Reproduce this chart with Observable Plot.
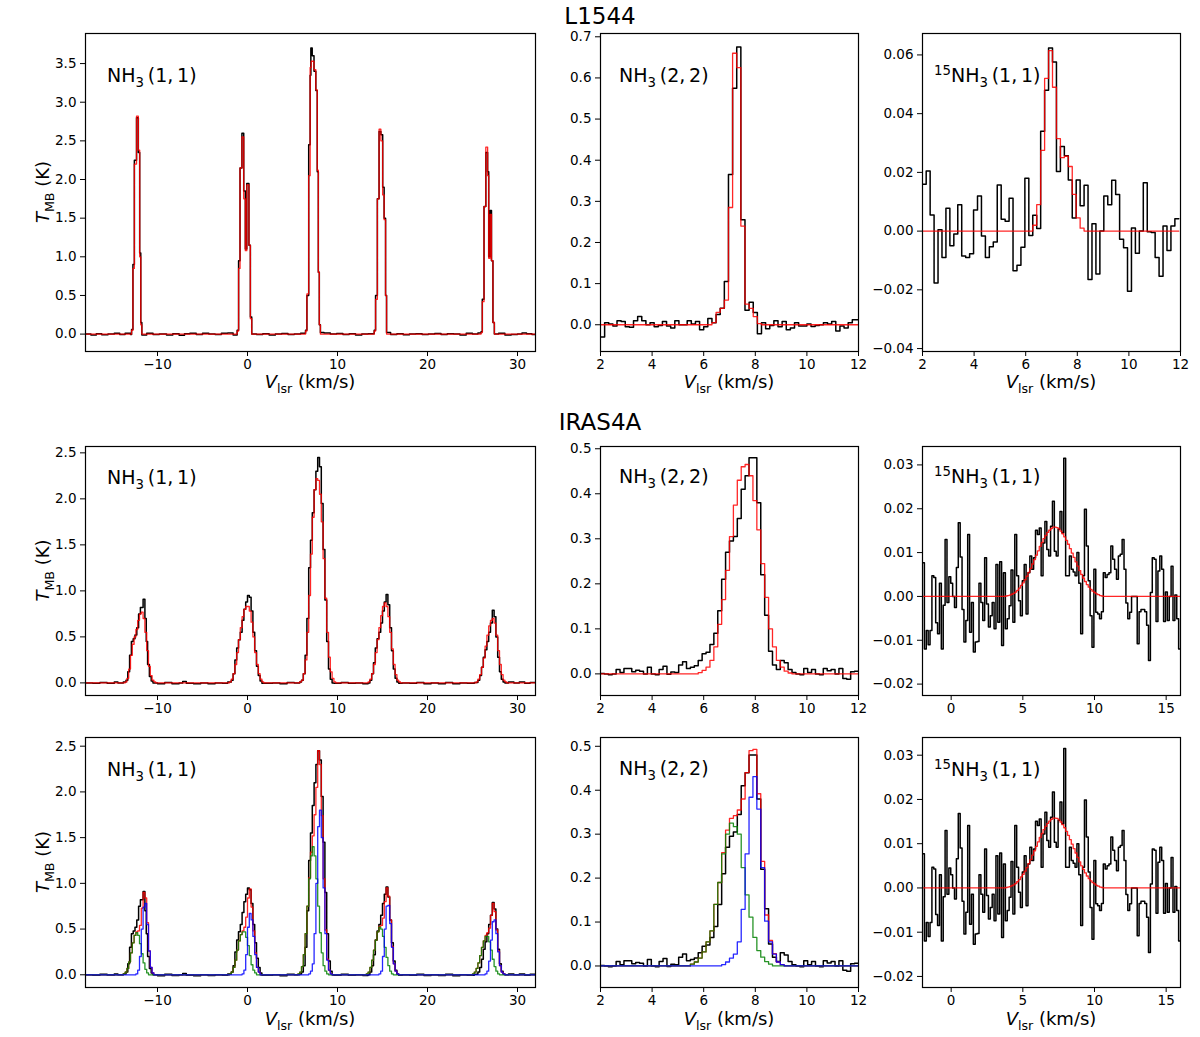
<!DOCTYPE html>
<html>
<head>
<meta charset="utf-8">
<script src="https://cdn.jsdelivr.net/npm/d3@7"></script>
<script src="https://cdn.jsdelivr.net/npm/@observablehq/plot@0.6"></script>
<style>
  body { margin: 0; background: #fff; }
  #fig { position: relative; width: 1200px; height: 1037px; background: #fff; font-family: "DejaVu Sans", sans-serif; }
</style>
</head>
<body>
<div id="fig"></div>
<script>
// ---- tick labels ----
const ticksWide = [-10, 0, 10, 20, 30];
const ticksNarrow = [2, 4, 6, 8, 10, 12];
const ticks15 = [0, 5, 10, 15];
const yTicksL11 = [0, 0.5, 1, 1.5, 2, 2.5, 3, 3.5];
const yTicksL22 = [0, 0.1, 0.2, 0.3, 0.4, 0.5, 0.6, 0.7];
const yTicksL15 = [-0.04, -0.02, 0, 0.02, 0.04, 0.06];
const yTicksI11 = [0, 0.5, 1, 1.5, 2, 2.5];
const yTicksI22 = [0, 0.1, 0.2, 0.3, 0.4, 0.5];
const yTicksI15 = [-0.02, -0.01, 0, 0.01, 0.02, 0.03];

// ---- L1544 NH3(1,1): [velocity, T] step breakpoints ----
const l11Obs = [
  [-18,0.0],[-17.4,-0.01],[-16.8,0.005],[-16.2,-0.008],[-15.5,0.0],[-14.8,0.01],[-14.2,-0.005],[-13.6,0.012],[-13.0,-0.005],
  [-12.88,0.06],[-12.73,0.9],[-12.57,2.25],[-12.33,2.8],[-12.13,2.35],[-11.98,1.05],[-11.86,0.15],[-11.74,-0.01],
  [-11.2,0.01],[-10.5,-0.005],[-9.8,0.0],[-9.0,-0.01],[-8.3,0.005],[-7.6,-0.015],[-7.0,0.005],[-6.4,0.01],[-5.7,-0.005],[-5.0,0.01],[-4.3,0.0],[-3.6,-0.005],[-2.9,0.01],[-2.2,0.015],[-1.6,-0.01],
  [-1.15,0.05],[-0.99,0.95],[-0.83,2.15],[-0.62,2.6],[-0.42,1.85],[-0.24,1.1],[-0.08,1.95],[0.16,1.15],[0.32,0.22],[0.47,0.0],
  [1.0,-0.005],[1.7,0.005],[2.4,-0.01],[3.1,0.0],[3.8,0.008],[4.5,-0.005],[5.2,0.0],[5.9,0.01],
  [6.45,0.05],[6.6,0.5],[6.8,2.45],[6.96,3.35],[7.04,3.7],[7.19,3.6],[7.39,3.4],[7.59,3.15],[7.75,2.1],[7.87,0.8],[7.98,0.12],[8.1,0.02],
  [8.5,0.015],[9.2,0.0],[9.9,0.008],[10.6,-0.005],[11.3,0.005],[12.0,-0.01],[12.7,0.0],[13.4,0.005],
  [14.08,0.05],[14.23,0.5],[14.43,1.75],[14.62,2.62],[14.82,2.58],[15.02,1.9],[15.18,1.5],[15.34,0.5],[15.45,0.02],
  [15.9,-0.005],[16.6,0.005],[17.3,-0.008],[18.0,0.0],[18.7,0.005],[19.4,-0.005],[20.1,0.0],[20.8,0.008],[21.5,-0.005],[22.2,0.005],[22.9,0.0],[23.6,-0.01],[24.3,0.01],[25.0,0.0],[25.6,0.015],
  [25.95,0.03],[26.09,0.45],[26.28,1.65],[26.48,2.35],[26.68,2.1],[26.8,1.0],[26.96,1.6],[27.11,0.95],[27.27,0.15],[27.43,0.0],
  [27.9,0.01],[28.6,-0.01],[29.3,-0.005],[30.0,0.0],[30.5,0.015],[31.0,0.005],[31.6,-0.005],[32,0]
];
const l11Fit = [
  [-18,0],[-12.88,0.05],[-12.73,0.85],[-12.57,2.2],[-12.33,2.82],[-12.13,2.38],[-11.98,1.0],[-11.86,0.12],[-11.74,0],
  [-1.15,0.04],[-0.99,0.85],[-0.83,2.15],[-0.62,2.55],[-0.42,1.75],[-0.24,1.08],[-0.08,1.93],[0.16,1.15],[0.32,0.2],[0.47,0],
  [6.45,0.04],[6.6,0.52],[6.8,2.05],[6.96,3.45],[7.08,3.53],[7.39,3.42],[7.59,3.16],[7.75,2.12],[7.87,0.8],[7.98,0.12],[8.1,0],
  [14.08,0.04],[14.23,0.45],[14.43,1.75],[14.62,2.65],[14.82,2.5],[15.02,1.8],[15.18,1.48],[15.34,0.5],[15.45,0],
  [25.95,0.02],[26.09,0.42],[26.28,1.65],[26.48,2.42],[26.68,2.05],[26.8,0.98],[26.96,1.55],[27.11,0.95],[27.27,0.15],[27.43,0],
  [32,0]
];

// ---- L1544 NH3(2,2): channel values, start 2.0 km/s, width 0.16 ----
const l22V0 = 2.0, l22Dv = 0.16;
const l22Obs = [-0.03,0.005,0.002,-0.003,0.01,0.008,-0.005,-0.006,0.01,0.02,0.01,0.0,0.005,-0.005,-0.002,0.008,-0.003,-0.008,0.01,0.0,0.0,0.01,0.002,0.008,-0.012,-0.005,0.015,0.005,0.025,0.04,0.105,0.365,0.575,0.675,0.255,0.035,0.055,0.03,-0.022,0.005,-0.01,-0.002,0.01,-0.005,0.008,-0.012,-0.008,0.005,-0.003,-0.003,0.002,-0.004,-0.002,0.0,0.005,0.002,0.008,-0.015,-0.003,-0.008,0.005,0.012,0.012];
const l22FitFirst = 27;
const l22Fit = [0.005,0.03,0.04,0.06,0.285,0.66,0.625,0.24,0.05,0.04,0.02,0.003];

// ---- L1544 15NH3(1,1): start 1.99 km/s, width 0.153 ----
const l15V0 = 1.99, l15Dv = 0.153;
const l15Obs = [0.016,0.0205,0.0055,-0.0177,0.0005,-0.009,0.0078,-0.005,-0.001,0.009,-0.0085,-0.009,-0.0077,0.0072,0.012,-0.0017,-0.009,-0.0053,-0.0037,0.0157,0.004,0.0034,0.0112,-0.0135,-0.0116,-0.0055,0.018,-0.0015,0.0054,0.0009,0.034,0.048,0.0624,0.0576,0.0203,0.0288,0.0257,0.0174,0.0045,0.0174,0.0086,0.0156,-0.0165,0.0025,-0.0146,0.0,0.012,0.009,0.0173,0.0125,-0.0028,-0.0057,-0.0205,0.0011,-0.0075,0.0,0.0165,-0.0002,-0.0005,-0.009,-0.0154,0.0017,-0.0066,0.0017,0.0042];
const l15FitFirst = 28;
const l15Fit = [0.002,0.009,0.0275,0.052,0.0615,0.049,0.0315,0.025,0.0255,0.022,0.0125,0.0045,0.001];

// ---- IRAS4A NH3(1,1) ----
const i11Obs = [
  [-18,0.0],[-17.2,-0.005],[-16.4,0.005],[-15.6,-0.003],[-14.8,0.01],[-14.4,0.0],[-13.8,0.01],
  [-13.5,0.03],[-13.3,0.12],[-13.1,0.3],[-12.9,0.45],[-12.7,0.48],[-12.5,0.52],[-12.3,0.6],[-12.1,0.75],[-11.9,0.82],[-11.6,0.91],[-11.4,0.7],[-11.25,0.45],[-11.1,0.2],[-10.9,0.07],[-10.7,0.02],[-10.5,0.0],
  [-10.0,-0.01],[-9.2,0.005],[-8.4,-0.008],[-7.6,0.0],[-7.2,0.015],[-6.8,-0.005],[-6.0,-0.01],[-5.2,0.0],[-4.4,-0.008],[-3.6,0.0],[-2.8,-0.005],[-2.2,0.01],
  [-1.8,0.03],[-1.6,0.1],[-1.4,0.25],[-1.2,0.38],[-1.0,0.47],[-0.8,0.55],[-0.6,0.68],[-0.4,0.8],[-0.2,0.88],[0.0,0.95],[0.2,0.93],[0.4,0.78],[0.6,0.55],[0.8,0.35],[1.0,0.18],[1.2,0.08],[1.4,0.02],[1.6,-0.005],
  [2.0,-0.005],[2.8,0.0],[3.6,-0.01],[4.4,0.005],[5.2,0.0],[5.8,0.01],
  [6.0,0.03],[6.2,0.1],[6.4,0.3],[6.6,0.7],[6.8,1.25],[7.0,1.55],[7.2,1.85],[7.4,2.1],[7.6,2.3],[7.8,2.45],[8.0,2.35],[8.2,1.95],[8.4,1.45],[8.6,0.9],[8.8,0.45],[9.0,0.15],[9.2,0.04],[9.4,0.0],
  [9.6,-0.005],[10.4,0.005],[11.2,-0.005],[12.0,0.0],[12.8,-0.008],[13.4,0.0],
  [13.6,0.03],[13.8,0.1],[14.0,0.22],[14.2,0.38],[14.4,0.48],[14.6,0.55],[14.8,0.65],[15.0,0.78],[15.2,0.88],[15.4,0.96],[15.6,0.85],[15.8,0.6],[16.0,0.35],[16.2,0.15],[16.4,0.05],[16.6,0.01],[16.8,-0.005],
  [17.2,0.0],[18.0,-0.005],[18.8,0.005],[19.6,-0.008],[20.4,0.0],[21.2,-0.008],[22.0,0.005],[22.8,-0.01],[23.6,0.0],[24.4,-0.005],[25.2,0.005],
  [25.6,0.03],[25.8,0.08],[26.0,0.17],[26.2,0.28],[26.4,0.36],[26.6,0.45],[26.8,0.55],[27.0,0.65],[27.2,0.79],[27.4,0.72],[27.6,0.5],[27.8,0.28],[28.0,0.12],[28.2,0.04],[28.4,0.01],[28.6,0.0],
  [29.0,0.01],[29.6,0.0],[30.2,0.01],[30.8,-0.005],[31.4,0.005],[32,0]
];
const i11Fit1 = [
  [-18,0],
  [-13.6,0.01],[-13.4,0.05],[-13.2,0.15],[-13.0,0.3],[-12.8,0.42],[-12.6,0.5],[-12.4,0.58],[-12.2,0.68],[-12.0,0.75],[-11.8,0.77],[-11.6,0.7],[-11.4,0.55],[-11.2,0.35],[-11.0,0.18],[-10.8,0.08],[-10.6,0.03],[-10.4,0.01],[-10.2,0],
  [-2.0,0.01],[-1.8,0.04],[-1.6,0.1],[-1.4,0.2],[-1.2,0.33],[-1.0,0.47],[-0.8,0.6],[-0.6,0.72],[-0.4,0.8],[-0.2,0.83],[0.0,0.83],[0.2,0.78],[0.4,0.66],[0.6,0.5],[0.8,0.33],[1.0,0.2],[1.2,0.1],[1.4,0.04],[1.6,0.01],[1.8,0],
  [5.8,0.01],[6.0,0.03],[6.2,0.1],[6.4,0.25],[6.6,0.55],[6.8,0.95],[7.0,1.4],[7.2,1.8],[7.4,2.1],[7.6,2.22],[7.8,2.2],[8.0,2.05],[8.2,1.75],[8.4,1.35],[8.6,0.92],[8.8,0.55],[9.0,0.28],[9.2,0.12],[9.4,0.05],[9.6,0.01],[9.8,0],
  [13.4,0.01],[13.6,0.04],[13.8,0.1],[14.0,0.2],[14.2,0.33],[14.4,0.47],[14.6,0.6],[14.8,0.73],[15.0,0.83],[15.2,0.87],[15.4,0.83],[15.6,0.72],[15.8,0.55],[16.0,0.37],[16.2,0.2],[16.4,0.09],[16.6,0.03],[16.8,0.01],[17.0,0],
  [25.4,0.01],[25.6,0.04],[25.8,0.09],[26.0,0.17],[26.2,0.27],[26.4,0.4],[26.6,0.52],[26.8,0.62],[27.0,0.68],[27.2,0.7],[27.4,0.65],[27.6,0.52],[27.8,0.35],[28.0,0.2],[28.2,0.09],[28.4,0.03],[28.6,0.01],[28.8,0],
  [32,0]
];
const i11Fit2 = [
  [-18,0],
  [-13.8,0.01],[-13.6,0.03],[-13.4,0.07],[-13.2,0.14],[-13.0,0.24],[-12.8,0.35],[-12.6,0.43],[-12.4,0.47],[-12.2,0.48],[-12.0,0.54],[-11.8,0.73],[-11.6,0.9],[-11.4,0.84],[-11.2,0.57],[-11.0,0.26],[-10.8,0.08],[-10.6,0.02],[-10.4,0],
  [-2.0,0.01],[-1.8,0.03],[-1.6,0.08],[-1.4,0.16],[-1.2,0.27],[-1.0,0.37],[-0.8,0.44],[-0.6,0.48],[-0.4,0.52],[-0.2,0.63],[0.0,0.84],[0.2,0.94],[0.4,0.74],[0.6,0.48],[0.8,0.24],[1.0,0.08],[1.2,0.03],[1.4,0],
  [5.6,0.01],[5.8,0.03],[6.0,0.09],[6.2,0.22],[6.4,0.45],[6.6,0.75],[6.8,1.06],[7.0,1.34],[7.2,1.52],[7.4,1.75],[7.6,2.05],[7.8,2.45],[8.0,2.3],[8.2,1.74],[8.4,1.05],[8.6,0.49],[8.8,0.17],[9.0,0.05],[9.2,0.01],[9.4,0],
  [13.2,0.01],[13.4,0.03],[13.6,0.08],[13.8,0.16],[14.0,0.27],[14.2,0.38],[14.4,0.47],[14.6,0.53],[14.8,0.54],[15.0,0.62],[15.2,0.8],[15.4,0.95],[15.6,0.86],[15.8,0.6],[16.0,0.31],[16.2,0.12],[16.4,0.04],[16.6,0.01],[16.8,0],
  [25.0,0.01],[25.2,0.03],[25.4,0.07],[25.6,0.13],[25.8,0.21],[26.0,0.3],[26.2,0.37],[26.4,0.43],[26.6,0.46],[26.8,0.51],[27.0,0.65],[27.2,0.78],[27.4,0.69],[27.6,0.49],[27.8,0.26],[28.0,0.1],[28.2,0.03],[28.4,0.01],[28.6,0],
  [32,0]
];
const i11Slow = [
  [-18,0],
  [-13.8,0.01],[-13.6,0.03],[-13.4,0.07],[-13.2,0.14],[-13.0,0.24],[-12.8,0.35],[-12.6,0.43],[-12.4,0.46],[-12.2,0.43],[-12.0,0.34],[-11.8,0.23],[-11.6,0.13],[-11.4,0.06],[-11.2,0.02],[-11.0,0],
  [-2.0,0.01],[-1.8,0.03],[-1.6,0.08],[-1.4,0.16],[-1.2,0.27],[-1.0,0.37],[-0.8,0.44],[-0.6,0.47],[-0.4,0.47],[-0.2,0.41],[0.0,0.32],[0.2,0.21],[0.4,0.11],[0.6,0.05],[0.8,0.02],[1.0,0],
  [5.6,0.01],[5.8,0.03],[6.0,0.09],[6.2,0.22],[6.4,0.45],[6.6,0.75],[6.8,1.05],[7.0,1.3],[7.2,1.4],[7.4,1.3],[7.6,1.05],[7.8,0.75],[8.0,0.46],[8.2,0.24],[8.4,0.1],[8.6,0.04],[8.8,0.01],[9.0,0],
  [13.2,0.01],[13.4,0.03],[13.6,0.08],[13.8,0.16],[14.0,0.27],[14.2,0.38],[14.4,0.47],[14.6,0.52],[14.8,0.5],[15.0,0.42],[15.2,0.3],[15.4,0.19],[15.6,0.1],[15.8,0.04],[16.0,0.01],[16.2,0],
  [25.0,0.01],[25.2,0.03],[25.4,0.07],[25.6,0.13],[25.8,0.21],[26.0,0.3],[26.2,0.37],[26.4,0.42],[26.6,0.42],[26.8,0.36],[27.0,0.27],[27.2,0.17],[27.4,0.09],[27.6,0.04],[27.8,0.01],[28.0,0],
  [32,0]
];
const i11Fast = [
  [-18,0],
  [-12.4,0.01],[-12.2,0.05],[-12.0,0.2],[-11.8,0.5],[-11.6,0.74],[-11.4,0.78],[-11.2,0.55],[-11.0,0.26],[-10.8,0.08],[-10.6,0.02],[-10.4,0],
  [-0.6,0.01],[-0.4,0.05],[-0.2,0.22],[0.0,0.52],[0.2,0.67],[0.4,0.6],[0.6,0.42],[0.8,0.22],[1.0,0.08],[1.2,0.03],[1.4,0],
  [6.8,0.01],[7.0,0.04],[7.2,0.12],[7.4,0.45],[7.6,1.0],[7.8,1.62],[8.0,1.8],[8.2,1.5],[8.4,0.95],[8.6,0.45],[8.8,0.16],[9.0,0.05],[9.2,0.01],[9.4,0],
  [14.6,0.01],[14.8,0.04],[15.0,0.2],[15.2,0.5],[15.4,0.75],[15.6,0.76],[15.8,0.56],[16.0,0.3],[16.2,0.12],[16.4,0.04],[16.6,0.01],[16.8,0],
  [26.4,0.01],[26.6,0.04],[26.8,0.15],[27.0,0.38],[27.2,0.58],[27.4,0.6],[27.6,0.45],[27.8,0.25],[28.0,0.1],[28.2,0.03],[28.4,0.01],[28.6,0],
  [32,0]
];

// ---- IRAS4A NH3(2,2): start 2.0 km/s, width 0.1515 ----
const i22V0 = 2.0, i22Dv = 0.1515;
const i22Obs = [0.001,0.0,-0.002,0.0,0.01,0.003,0.012,0.012,0.005,0.008,0.006,0.0,0.015,0.0,-0.002,0.01,0.017,-0.001,0.004,0.003,0.02,0.027,0.012,0.015,0.018,0.03,0.045,0.048,0.065,0.09,0.14,0.21,0.27,0.295,0.305,0.345,0.41,0.44,0.48,0.48,0.38,0.22,0.13,0.05,0.02,0.01,0.03,0.025,0.01,0.003,0.0,-0.002,0.012,0.003,0.01,0.0,-0.002,0.012,0.007,0.01,0.0,0.012,-0.01,-0.012,0.005,0.006];
const i22Fit1First = 25;
const i22Fit1 = [0.003,0.008,0.015,0.03,0.06,0.11,0.165,0.23,0.305,0.375,0.43,0.46,0.465,0.44,0.385,0.32,0.245,0.17,0.1,0.06,0.03,0.015,0.006,0.002];
const i22Fit2First = 23;
const i22Fit2 = [0.004,0.009,0.018,0.032,0.055,0.08,0.14,0.19,0.258,0.309,0.336,0.342,0.355,0.38,0.44,0.49,0.493,0.392,0.238,0.116,0.058,0.028,0.009,0.003];
const i22SlowFirst = 23;
const i22Slow = [0.004,0.009,0.018,0.032,0.055,0.08,0.14,0.19,0.255,0.3,0.325,0.317,0.3,0.224,0.162,0.111,0.065,0.035,0.02,0.01,0.004];
const i22FastFirst = 31;
const i22Fast = [0.003,0.009,0.018,0.027,0.055,0.129,0.255,0.384,0.431,0.357,0.224,0.102,0.055,0.027,0.009,0.003];

// ---- IRAS4A 15NH3(1,1): start -2.0 km/s, width 0.1314 ----
const i15V0 = -2.0, i15Dv = 0.1314;
const i15Obs = [0.0077,-0.012,-0.0078,-0.011,-0.0078,0.0047,0.0043,-0.006,-0.0085,0.003,-0.012,-0.002,0.013,-0.0014,0.0045,0.003,0.0,-0.0025,0.0066,0.0168,0.009,-0.003,-0.0104,-0.0055,0.0141,-0.0082,-0.0014,-0.0127,-0.0104,-0.0103,0.003,-0.0014,-0.0055,0.0088,-0.0017,-0.007,-0.0044,-0.0014,-0.0074,0.0073,-0.0059,0.0079,-0.0112,0.0054,-0.0074,-0.0051,-0.0021,0.006,-0.0059,0.0141,0.0047,-0.001,-0.0044,0.0036,0.0073,-0.004,0.0054,0.0092,0.0062,0.0088,0.0151,0.0141,0.0156,0.0047,0.0122,0.0171,0.0107,0.0092,0.016,0.0217,0.0103,0.0092,0.0153,0.0194,0.0145,0.0315,0.0047,0.0047,0.0092,0.0062,0.0056,0.0047,0.01,0.003,-0.0085,0.0047,0.0199,0.0115,0.0036,-0.0044,-0.0116,0.0062,-0.0036,-0.004,-0.0051,-0.0035,0.0054,0.0043,0.005,0.0054,0.0115,0.0085,0.0062,0.0039,0.0092,0.0096,0.013,0.0062,-0.0015,-0.0051,-0.0036,0.0,0.0,0.0,-0.0108,-0.0035,-0.003,-0.003,-0.0035,-0.0066,-0.0146,0.0009,0.0088,0.0085,-0.0057,0.0058,0.0092,0.0062,-0.0057,0.001,-0.0055,0.0,0.0069,-0.0055,0.0003,-0.0051,-0.012];
const i15FitFirst = 44;
const i15Fit = [0.0001,0.0002,0.0003,0.0005,0.0007,0.001,0.0014,0.0019,0.0025,0.0031,0.0038,0.0046,0.0055,0.0064,0.0074,0.0084,0.0094,0.0104,0.0114,0.0123,0.0132,0.0139,0.0146,0.0151,0.0155,0.0158,0.0158,0.0157,0.0154,0.0149,0.0143,0.0136,0.0128,0.0119,0.0109,0.0099,0.0089,0.0079,0.0069,0.0059,0.005,0.0042,0.0034,0.0027,0.0021,0.0016,0.0012,0.0009,0.0006,0.0004,0.0002,0.0001];

// channel arrays -> [left edge, value] with a closing point at the last right edge
function channels(vals, v0, dv) {
  const pts = vals.map((t, i) => [v0 + i * dv, t]);
  pts.push([v0 + vals.length * dv, vals[vals.length - 1]]);
  return pts;
}
// model stored from its first non-zero channel; zero elsewhere
function modelChannels(vals, first, n, v0, dv) {
  const full = [];
  for (let i = 0; i < n; i++) full.push(i >= first && i < first + vals.length ? vals[i - first] : 0);
  return channels(full, v0, dv);
}

const RED = "#ff0000", GREEN = "#008000", BLUE = "#0000ff";
const FONT = "'DejaVu Sans', sans-serif";
const fig = document.getElementById("fig");

function panel({x0, y0, w, h, xDomain, yDomain, xTicks, yTicks, xFmt, yFmt, series}) {
  const ml = 60, mr = 10, mt = 10, mb = 34;
  const svg = Plot.plot({
    width: w + ml + mr,
    height: h + mt + mb,
    marginLeft: ml, marginRight: mr, marginTop: mt, marginBottom: mb,
    x: {domain: xDomain},
    y: {domain: yDomain},
    style: {fontFamily: FONT, fontSize: "13.5px", color: "black", background: "transparent", overflow: "visible"},
    marks: [
      ...series.map(s => Plot.line(s.data, {
        x: d => d[0], y: d => d[1], curve: "step-after", clip: true,
        stroke: s.color, strokeWidth: s.width || 1.3, strokeOpacity: s.opacity || 1
      })),
      Plot.frame({stroke: "black", strokeWidth: 1.2}),
      Plot.axisX({ticks: xTicks, tickFormat: d3.format(xFmt), tickSize: 5, tickPadding: 3, label: null,
        fontSize: 13.5, fontFamily: FONT}),
      Plot.axisY({ticks: yTicks, tickFormat: d3.format(yFmt), tickSize: 5, tickPadding: 4, label: null,
        fontSize: 13.5, fontFamily: FONT})
    ]
  });
  svg.style.position = "absolute";
  svg.style.left = (x0 - ml) + "px";
  svg.style.top = (y0 - mt) + "px";
  svg.style.maxWidth = "none";
  fig.appendChild(svg);
}

const col = [[85, 450], [600, 258], [922, 258]];
const row = [[33, 318], [446, 249], [737, 250]];

const obs = (data) => ({data, color: "black", width: 1.5});
const fit = (data, color) => ({data, color, width: 1.3, opacity: 0.85});

// row 1: L1544
panel({x0: col[0][0], w: col[0][1], y0: row[0][0], h: row[0][1], xDomain: [-18, 32], yDomain: [-0.225, 3.889],
  xTicks: ticksWide, yTicks: yTicksL11, xFmt: "d", yFmt: ".1f",
  series: [obs(l11Obs), fit(l11Fit, RED)]});
panel({x0: col[1][0], w: col[1][1], y0: row[0][0], h: row[0][1], xDomain: [2, 12], yDomain: [-0.065, 0.708],
  xTicks: ticksNarrow, yTicks: yTicksL22, xFmt: "d", yFmt: ".1f",
  series: [obs(channels(l22Obs, l22V0, l22Dv)), fit(modelChannels(l22Fit, l22FitFirst, l22Obs.length, l22V0, l22Dv), RED)]});
panel({x0: col[2][0], w: col[2][1], y0: row[0][0], h: row[0][1], xDomain: [2, 12], yDomain: [-0.041, 0.0673],
  xTicks: ticksNarrow, yTicks: yTicksL15, xFmt: "d", yFmt: ".2f",
  series: [obs(channels(l15Obs, l15V0, l15Dv)), fit(modelChannels(l15Fit, l15FitFirst, l15Obs.length, l15V0, l15Dv), RED)]});

// row 2: IRAS4A, one component
panel({x0: col[0][0], w: col[0][1], y0: row[1][0], h: row[1][1], xDomain: [-18, 32], yDomain: [-0.137, 2.569],
  xTicks: ticksWide, yTicks: yTicksI11, xFmt: "d", yFmt: ".1f",
  series: [obs(i11Obs), fit(i11Fit1, RED)]});
panel({x0: col[1][0], w: col[1][1], y0: row[1][0], h: row[1][1], xDomain: [2, 12], yDomain: [-0.048, 0.505],
  xTicks: ticksNarrow, yTicks: yTicksI22, xFmt: "d", yFmt: ".1f",
  series: [obs(channels(i22Obs, i22V0, i22Dv)), fit(modelChannels(i22Fit1, i22Fit1First, i22Obs.length, i22V0, i22Dv), RED)]});
panel({x0: col[2][0], w: col[2][1], y0: row[1][0], h: row[1][1], xDomain: [-2, 16], yDomain: [-0.0226, 0.0342],
  xTicks: ticks15, yTicks: yTicksI15, xFmt: "d", yFmt: ".2f",
  series: [obs(channels(i15Obs, i15V0, i15Dv)), fit(modelChannels(i15Fit, i15FitFirst, i15Obs.length, i15V0, i15Dv), RED)]});

// row 3: IRAS4A, two components
panel({x0: col[0][0], w: col[0][1], y0: row[2][0], h: row[2][1], xDomain: [-18, 32], yDomain: [-0.139, 2.595],
  xTicks: ticksWide, yTicks: yTicksI11, xFmt: "d", yFmt: ".1f",
  series: [obs(i11Obs), fit(i11Fit2, RED), fit(i11Slow, GREEN), fit(i11Fast, BLUE)]});
panel({x0: col[1][0], w: col[1][1], y0: row[2][0], h: row[2][1], xDomain: [2, 12], yDomain: [-0.049, 0.52],
  xTicks: ticksNarrow, yTicks: yTicksI22, xFmt: "d", yFmt: ".1f",
  series: [obs(channels(i22Obs, i22V0, i22Dv)),
    fit(modelChannels(i22Fit2, i22Fit2First, i22Obs.length, i22V0, i22Dv), RED),
    fit(modelChannels(i22Slow, i22SlowFirst, i22Obs.length, i22V0, i22Dv), GREEN),
    fit(modelChannels(i22Fast, i22FastFirst, i22Obs.length, i22V0, i22Dv), BLUE)]});
panel({x0: col[2][0], w: col[2][1], y0: row[2][0], h: row[2][1], xDomain: [-2, 16], yDomain: [-0.0225, 0.034],
  xTicks: ticks15, yTicks: yTicksI15, xFmt: "d", yFmt: ".2f",
  series: [obs(channels(i15Obs, i15V0, i15Dv)), fit(modelChannels(i15Fit, i15FitFirst, i15Obs.length, i15V0, i15Dv), RED)]});

// ---- titles, line labels and axis labels (text with sub/superscripts) ----
const over = d3.select(fig).append("svg")
  .attr("width", 1200).attr("height", 1037)
  .style("position", "absolute").style("left", "0px").style("top", "0px")
  .style("pointer-events", "none")
  .attr("font-family", FONT);

function label(x, y, parts, {size = 18, anchor = "start", rotate = 0} = {}) {
  const t = over.append("text").attr("x", x).attr("y", y)
    .attr("font-size", size).attr("text-anchor", anchor).attr("fill", "black");
  if (rotate) t.attr("transform", `rotate(${rotate},${x},${y})`);
  let shift = 0;
  for (const p of parts) {
    const s = t.append("tspan").text(p.t);
    const want = p.sub ? 0.28 * size : p.sup ? -0.38 * size : 0;
    if (want !== shift) s.attr("dy", want - shift);
    shift = want;
    if (p.sub || p.sup) s.attr("font-size", size * 0.7);
    if (p.i) s.attr("font-style", "italic");
  }
}

const nh3 = (q) => [{t: "NH"}, {t: "3", sub: true}, {t: `\u2009(${q},\u2009${q})`}];
const n15 = [{t: "15", sup: true}, {t: "NH"}, {t: "3", sub: true}, {t: "\u2009(1,\u20091)"}];
const vlsr = [{t: "V", i: true}, {t: "lsr", sub: true}, {t: " (km/s)"}];
const tmb = [{t: "T", i: true}, {t: "MB", sub: true}, {t: " (K)"}];

label(600, 24, [{t: "L1544"}], {size: 23, anchor: "middle"});
label(600, 430, [{t: "IRAS4A"}], {size: 23, anchor: "middle"});

const ann = 19;
label(107, 82, nh3(1), {size: ann}); label(619, 82, nh3(2), {size: ann}); label(934, 82, n15, {size: ann});
label(107, 484, nh3(1), {size: ann}); label(619, 483, nh3(2), {size: ann}); label(934, 483, n15, {size: ann});
label(107, 776, nh3(1), {size: ann}); label(619, 775, nh3(2), {size: ann}); label(934, 776, n15, {size: ann});

for (const [x0, w] of col) {
  label(x0 + w / 2, 388, vlsr, {anchor: "middle"});
  label(x0 + w / 2, 1025, vlsr, {anchor: "middle"});
}
for (const [y0, h] of row) label(49, y0 + h / 2, tmb, {anchor: "middle", rotate: -90});
</script>
</body>
</html>
